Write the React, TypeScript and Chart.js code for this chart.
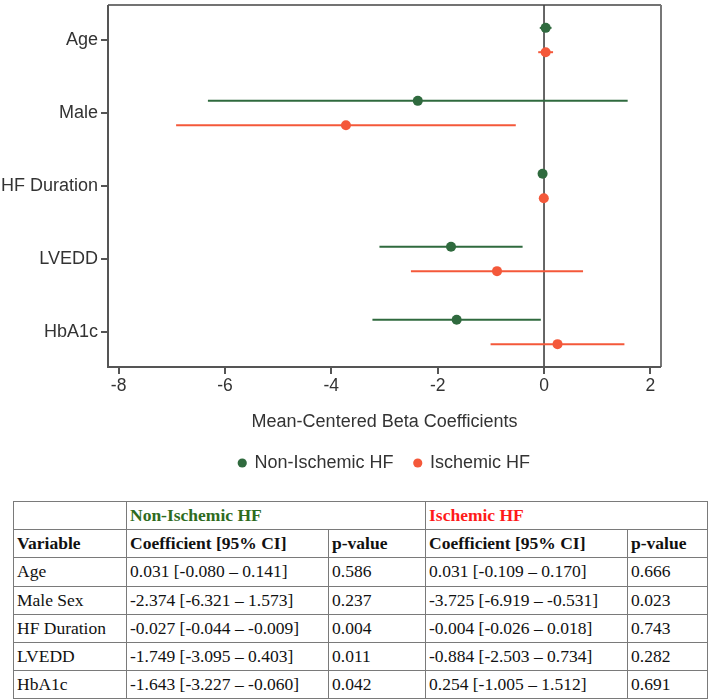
import React, { useEffect, useRef } from "react";
import { Chart, registerables } from "chart.js";

Chart.register(...registerables);

// ---------- Chart data ----------
const variables = ["Age", "Male", "HF Duration", "LVEDD", "HbA1c"];
const nonIschemicCoef = [0.031, -2.374, -0.027, -1.749, -1.643];
const nonIschemicLow = [-0.08, -6.321, -0.044, -3.095, -3.227];
const nonIschemicHigh = [0.141, 1.573, -0.009, -0.403, -0.06];
const ischemicCoef = [0.031, -3.725, -0.004, -0.884, 0.254];
const ischemicLow = [-0.109, -6.919, -0.026, -2.503, -1.005];
const ischemicHigh = [0.17, -0.531, 0.018, 0.734, 1.512];
const xTicks = [-8, -6, -4, -2, 0, 2];

// ---------- Table data ----------
const tableVariables = ["Age", "Male Sex", "HF Duration", "LVEDD", "HbA1c"];
const nonIschemicCI = [
  "0.031 [-0.080 – 0.141]",
  "-2.374 [-6.321 – 1.573]",
  "-0.027 [-0.044 – -0.009]",
  "-1.749 [-3.095 – 0.403]",
  "-1.643 [-3.227 – -0.060]",
];
const nonIschemicP = ["0.586", "0.237", "0.004", "0.011", "0.042"];
const ischemicCI = [
  "0.031 [-0.109 – 0.170]",
  "-3.725 [-6.919 – -0.531]",
  "-0.004 [-0.026 – 0.018]",
  "-0.884 [-2.503 – 0.734]",
  "0.254 [-1.005 – 1.512]",
];
const ischemicP = ["0.666", "0.023", "0.743", "0.282", "0.691"];

const GREEN = "#2f6a3e";
const ORANGE = "#f4583a";
const ROW_SHIFT = 1 / 6;
const FONT = "'Liberation Sans', Arial, sans-serif";

export default function App() {
  const ref = useRef<HTMLCanvasElement>(null);

  useEffect(() => {
    const canvas = ref.current;
    if (!canvas) return;
    const series = [
      { label: "Non-Ischemic HF", color: GREEN, coef: nonIschemicCoef, low: nonIschemicLow, high: nonIschemicHigh, shift: -ROW_SHIFT },
      { label: "Ischemic HF", color: ORANGE, coef: ischemicCoef, low: ischemicLow, high: ischemicHigh, shift: ROW_SHIFT },
    ];

    const forestPlugin = {
      id: "forest",
      beforeDatasetsDraw(chart: any) {
        const { ctx, chartArea: a, scales } = chart;
        const x = scales.x;
        const y = scales.y;
        ctx.save();
        // zero reference line
        const x0 = x.getPixelForValue(0);
        ctx.strokeStyle = "#333333";
        ctx.lineWidth = 1.5;
        ctx.beginPath();
        ctx.moveTo(x0, a.top);
        ctx.lineTo(x0, a.bottom);
        ctx.stroke();
        // confidence intervals
        series.forEach((s) => {
          ctx.strokeStyle = s.color;
          ctx.lineWidth = 2;
          s.low.forEach((lo, i) => {
            const py = y.getPixelForValue(i + s.shift);
            ctx.beginPath();
            ctx.moveTo(x.getPixelForValue(lo), py);
            ctx.lineTo(x.getPixelForValue(s.high[i]), py);
            ctx.stroke();
          });
        });
        // frame
        ctx.lineWidth = 1.5;
        ctx.strokeStyle = "#444444";
        ctx.beginPath();
        ctx.moveTo(a.left, a.top);
        ctx.lineTo(a.right, a.top);
        ctx.stroke();
        ctx.lineWidth = 2;
        ctx.strokeStyle = "#777777";
        ctx.beginPath();
        ctx.moveTo(a.right, a.top);
        ctx.lineTo(a.right, a.bottom);
        ctx.stroke();
        ctx.strokeStyle = "#555555";
        ctx.beginPath();
        ctx.moveTo(a.left, a.top);
        ctx.lineTo(a.left, a.bottom);
        ctx.lineTo(a.right, a.bottom);
        ctx.stroke();
        ctx.restore();
      },
    };

    const chart = new Chart(canvas, {
      type: "scatter",
      data: {
        datasets: series.map((s) => ({
          label: s.label,
          data: s.coef.map((c, i) => ({ x: c, y: i + s.shift })),
          backgroundColor: s.color,
          borderColor: s.color,
          borderWidth: 0,
          pointRadius: 5,
          pointBorderWidth: 0,
          pointHoverRadius: 5,
          showLine: false,
        })),
      },
      options: {
        animation: false,
        responsive: false,
        devicePixelRatio: 1,
        layout: { padding: { left: 0, right: 48, top: 3, bottom: 2 } },
        plugins: {
          tooltip: { enabled: false },
          legend: {
            position: "bottom",
            fullSize: false,
            labels: {
              usePointStyle: true,
              pointStyle: "circle",
              boxWidth: 6.5,
              boxHeight: 6.5,
              padding: 21,
              color: "#333333",
              font: { family: FONT, size: 18 },
            },
          },
        },
        scales: {
          x: {
            type: "linear",
            min: -8.2,
            max: 2.2,
            afterBuildTicks: (s: any) => {
              s.ticks = xTicks.map((v) => ({ value: v }));
            },
            afterFit: (s: any) => {
              s.height = 66;
              s.paddingLeft = 0;
              s.paddingRight = 0;
            },
            ticks: {
              color: "#333333",
              padding: 1.5,
              font: { family: FONT, size: 17.5 },
              callback: (v: any) => String(v),
            },
            grid: { display: true, drawOnChartArea: false, drawTicks: true, tickLength: 7, color: "#555555", lineWidth: 2 },
            border: { display: false },
            title: {
              display: true,
              text: "Mean-Centered Beta Coefficients",
              color: "#333333",
              font: { family: FONT, size: 18 },
              padding: { top: 16, bottom: 0 },
            },
          },
          y: {
            type: "linear",
            min: -0.48,
            max: 4.48,
            reverse: true,
            afterBuildTicks: (s: any) => {
              s.ticks = variables.map((_, i) => ({ value: i }));
            },
            afterFit: (s: any) => {
              s.width = 108;
              s.paddingTop = 0;
              s.paddingBottom = 0;
            },
            ticks: {
              color: "#333333",
              padding: 3,
              font: { family: FONT, size: 18 },
              callback: (v: any) => variables[Math.round(Number(v))] ?? "",
            },
            grid: { display: true, drawOnChartArea: false, drawTicks: true, tickLength: 7, color: "#555555", lineWidth: 2 },
            border: { display: false },
          },
        },
      },
      plugins: [forestPlugin],
    } as any);

    return () => chart.destroy();
  }, []);

  const cell: React.CSSProperties = {
    border: "1.5px solid #7a7a7a",
    padding: "0 3px",
    height: 27.2,
    lineHeight: "normal",
    verticalAlign: "middle",
    whiteSpace: "nowrap",
    overflow: "hidden",
  };
  const bold: React.CSSProperties = { ...cell, fontWeight: "bold" };

  return (
    <div style={{ position: "absolute", left: 0, top: 0, width: 709, height: 700, overflow: "hidden", background: "#ffffff" }}>
      <canvas ref={ref} width={709} height={484} style={{ position: "absolute", left: 0, top: 0, width: 709, height: 484 }} />
      <table
        style={{
          position: "absolute",
          left: 13,
          top: 501,
          width: 694,
          borderCollapse: "collapse",
          tableLayout: "fixed",
          fontFamily: "'Liberation Serif', 'Times New Roman', serif",
          fontSize: 17.5,
          color: "#111111",
        }}
      >
        <colgroup>
          <col style={{ width: 113 }} />
          <col style={{ width: 202 }} />
          <col style={{ width: 97 }} />
          <col style={{ width: 202 }} />
          <col style={{ width: 80 }} />
        </colgroup>
        <tbody>
          <tr>
            <td style={cell}></td>
            <td style={{ ...bold, color: "#2e6b1e" }} colSpan={2}>Non-Ischemic HF</td>
            <td style={{ ...bold, color: "#ff1a1a" }} colSpan={2}>Ischemic HF</td>
          </tr>
          <tr>
            <td style={bold}>Variable</td>
            <td style={bold}>Coefficient [95% CI]</td>
            <td style={bold}>p-value</td>
            <td style={bold}>Coefficient [95% CI]</td>
            <td style={bold}>p-value</td>
          </tr>
          {tableVariables.map((v, i) => (
            <tr key={v}>
              <td style={cell}>{v}</td>
              <td style={cell}>{nonIschemicCI[i]}</td>
              <td style={cell}>{nonIschemicP[i]}</td>
              <td style={cell}>{ischemicCI[i]}</td>
              <td style={cell}>{ischemicP[i]}</td>
            </tr>
          ))}
        </tbody>
      </table>
    </div>
  );
}
